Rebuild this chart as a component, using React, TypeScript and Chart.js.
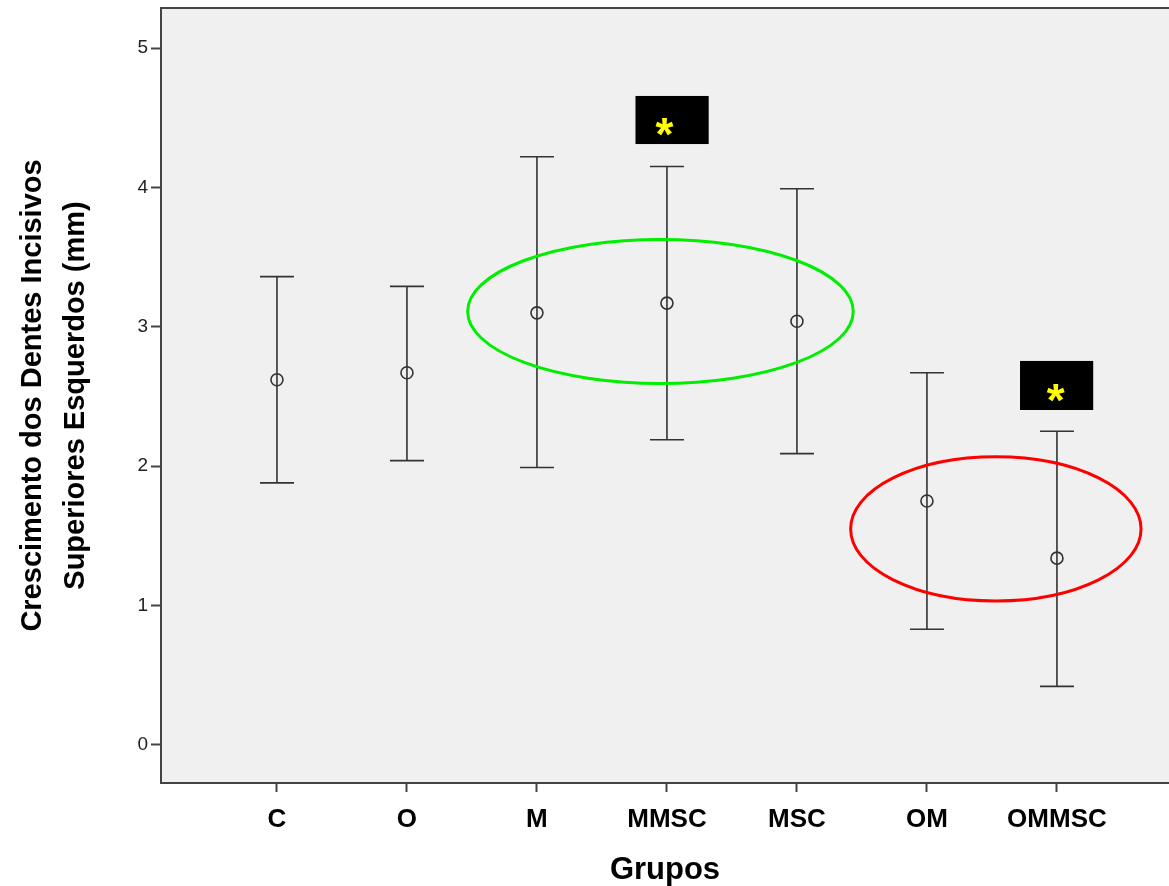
import React, { useEffect, useRef } from "react";
import { Chart, registerables } from "chart.js";

Chart.register(...registerables);

// ---- Data ----
const categories = ["C", "O", "M", "MMSC", "MSC", "OM", "OMMSC"];
const means = [2.62, 2.67, 3.10, 3.17, 3.04, 1.75, 1.34];
const upperCI = [3.36, 3.29, 4.22, 4.15, 3.99, 2.67, 2.25];
const lowerCI = [1.88, 2.04, 1.99, 2.19, 2.09, 0.83, 0.42];
const yTicks = [0, 1, 2, 3, 4, 5];

// Annotation ellipses (data units: category index, value)
const ellipseCenterX = [2.95, 5.53];
const ellipseCenterY = [3.11, 1.55];
const ellipseRadiusX = [1.483, 1.117];
const ellipseRadiusY = [0.517, 0.517];
const ellipseColors = ["#00ee00", "#ff0000"];

// Significance markers (data units)
const starBoxX0 = [2.758, 5.716];
const starBoxX1 = [3.321, 6.279];
const starBoxY0 = [4.311, 2.403];
const starBoxY1 = [4.656, 2.755];
const starX = [2.981, 5.99];
const starY = [4.44, 2.532];

const FONT = "'Liberation Sans', Arial, sans-serif";

const decorPlugin = {
  id: "decor",
  beforeDraw(chart: any) {
    const { ctx, chartArea } = chart;
    ctx.save();
    ctx.fillStyle = "#f0f0f0";
    ctx.fillRect(chartArea.left, chartArea.top, chartArea.right - chartArea.left, chartArea.bottom - chartArea.top);
    ctx.restore();
  },
  beforeDatasetsDraw(chart: any) {
    const { ctx, chartArea, scales } = chart;
    const xs = scales.x;
    const ys = scales.y;
    ctx.save();
    // top frame line
    ctx.strokeStyle = "#444";
    ctx.lineWidth = 2;
    ctx.beginPath();
    ctx.moveTo(chartArea.left, chartArea.top);
    ctx.lineTo(chartArea.right, chartArea.top);
    ctx.stroke();
    // error bars
    ctx.strokeStyle = "#333";
    ctx.lineWidth = 1.6;
    for (let i = 0; i < categories.length; i++) {
      const x = xs.getPixelForValue(i);
      const yU = ys.getPixelForValue(upperCI[i]);
      const yL = ys.getPixelForValue(lowerCI[i]);
      ctx.beginPath();
      ctx.moveTo(x, yU);
      ctx.lineTo(x, yL);
      ctx.moveTo(x - 17, yU);
      ctx.lineTo(x + 17, yU);
      ctx.moveTo(x - 17, yL);
      ctx.lineTo(x + 17, yL);
      ctx.stroke();
    }
    ctx.restore();
  },
  afterDatasetsDraw(chart: any) {
    const { ctx, scales } = chart;
    const xs = scales.x;
    const ys = scales.y;
    ctx.save();
    for (let i = 0; i < ellipseCenterX.length; i++) {
      const cx = xs.getPixelForValue(ellipseCenterX[i]);
      const cy = ys.getPixelForValue(ellipseCenterY[i]);
      const rx = Math.abs(xs.getPixelForValue(ellipseCenterX[i] + ellipseRadiusX[i]) - cx);
      const ry = Math.abs(ys.getPixelForValue(ellipseCenterY[i] + ellipseRadiusY[i]) - cy);
      ctx.strokeStyle = ellipseColors[i];
      ctx.lineWidth = 3;
      ctx.beginPath();
      ctx.ellipse(cx, cy, rx, ry, 0, 0, Math.PI * 2);
      ctx.stroke();
    }
    for (let i = 0; i < starBoxX0.length; i++) {
      const x0 = xs.getPixelForValue(starBoxX0[i]);
      const x1 = xs.getPixelForValue(starBoxX1[i]);
      const y0 = ys.getPixelForValue(starBoxY1[i]);
      const y1 = ys.getPixelForValue(starBoxY0[i]);
      ctx.fillStyle = "#000";
      ctx.fillRect(x0, y0, x1 - x0, y1 - y0);
      const sx = xs.getPixelForValue(starX[i]);
      const sy = ys.getPixelForValue(starY[i]);
      ctx.fillStyle = "#ffff00";
      ctx.font = `bold 46px ${FONT}`;
      ctx.textAlign = "center";
      ctx.textBaseline = "alphabetic";
      ctx.fillText("*", sx, sy + 24);
    }
    ctx.restore();
  },
};

export default function App() {
  const canvasRef = useRef<HTMLCanvasElement | null>(null);

  useEffect(() => {
    const canvas = canvasRef.current;
    if (!canvas) return;
    const chart = new Chart(canvas, {
      type: "scatter",
      data: {
        datasets: [
          {
            label: "Média",
            data: means.map((v, i) => ({ x: i, y: v })),
            pointStyle: "circle",
            pointRadius: 6,
            pointBorderWidth: 1.6,
            pointBorderColor: "#333",
            pointBackgroundColor: "rgba(0,0,0,0)",
            showLine: false,
          },
        ],
      },
      options: {
        animation: false,
        responsive: false,
        maintainAspectRatio: false,
        devicePixelRatio: 1,
        layout: { autoPadding: false, padding: { top: 8, right: 0, left: 0, bottom: 0 } },
        plugins: {
          legend: { display: false },
          tooltip: { enabled: false },
        },
        scales: {
          x: {
            type: "linear",
            min: -0.892,
            max: 6.862,
            afterBuildTicks: (scale: any) => {
              scale.ticks = categories.map((_, i) => ({ value: i }));
            },
            afterFit: (scale: any) => {
              scale.height = 103;
              scale.paddingLeft = 0;
              scale.paddingRight = 0;
            },
            ticks: {
              callback: (v: any) => categories[Math.round(Number(v))] ?? "",
              color: "#000",
              font: { family: FONT, size: 26, weight: "bold", lineHeight: 1.2 },
              padding: 12,
              maxRotation: 0,
              autoSkip: false,
            },
            grid: {
              display: true,
              drawOnChartArea: false,
              drawTicks: true,
              tickLength: 9,
              tickWidth: 2,
              tickColor: "#444",
            },
            border: { display: true, color: "#444", width: 2 },
            title: {
              display: true,
              text: "Grupos",
              color: "#000",
              font: { family: FONT, size: 31, weight: "bold", lineHeight: 1.0 },
              padding: { top: 0, bottom: 0 },
            },
          },
          y: {
            type: "linear",
            min: -0.273,
            max: 5.287,
            afterBuildTicks: (scale: any) => {
              scale.ticks = yTicks.map((v) => ({ value: v }));
            },
            afterFit: (scale: any) => {
              scale.width = 161;
              scale.paddingTop = 0;
              scale.paddingBottom = 0;
            },
            ticks: {
              color: "#222",
              font: { family: FONT, size: 19 },
              padding: 3,
            },
            grid: {
              display: true,
              drawOnChartArea: false,
              drawTicks: true,
              tickLength: 10,
              tickWidth: 2,
              tickColor: "#444",
            },
            border: { display: true, color: "#444", width: 2 },
            title: {
              display: true,
              text: ["Crescimento dos Dentes Incisivos", "Superiores Esquerdos (mm)"],
              color: "#000",
              font: { family: FONT, size: 29, weight: "bold", lineHeight: 1.48 },
              padding: { top: 12, bottom: 0 },
            },
          },
        },
      },
      plugins: [decorPlugin],
    });
    return () => chart.destroy();
  }, []);

  return (
    <div style={{ position: "absolute", left: 0, top: 0, width: 1169, height: 886, background: "#fff" }}>
      <canvas ref={canvasRef} width={1169} height={886} style={{ display: "block", width: 1169, height: 886 }} />
    </div>
  );
}
